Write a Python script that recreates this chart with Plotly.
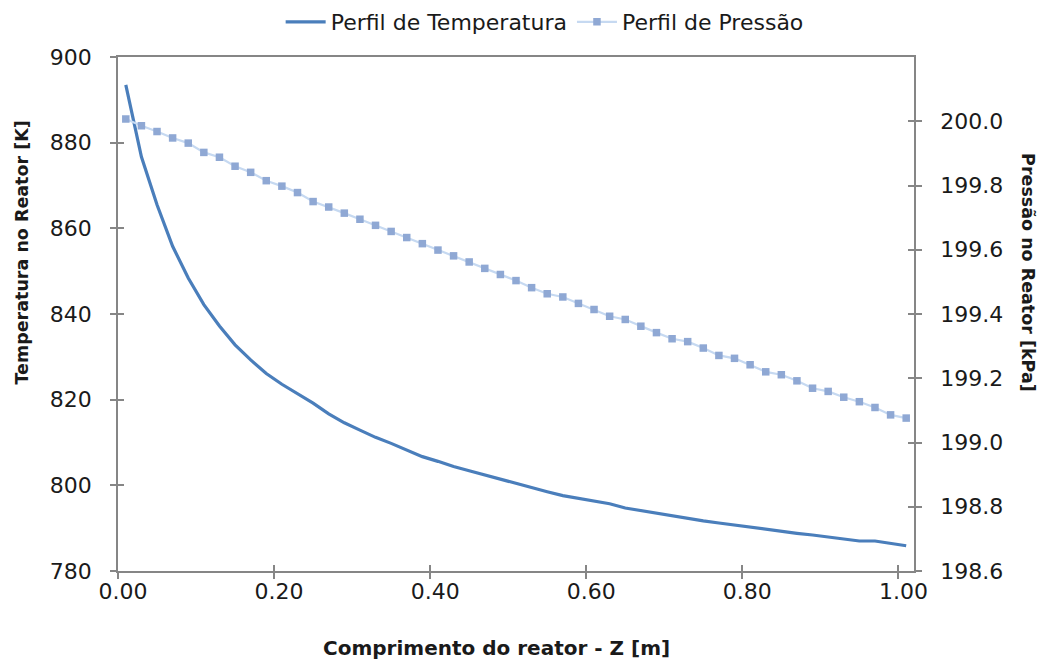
import plotly.graph_objects as go

z = [0.01, 0.03, 0.05, 0.07, 0.09, 0.11, 0.13, 0.15, 0.17, 0.19,
     0.21, 0.23, 0.25, 0.27, 0.29, 0.31, 0.33, 0.35, 0.37, 0.39,
     0.41, 0.43, 0.45, 0.47, 0.49, 0.51, 0.53, 0.55, 0.57, 0.59,
     0.61, 0.63, 0.65, 0.67, 0.69, 0.71, 0.73, 0.75, 0.77, 0.79,
     0.81, 0.83, 0.85, 0.87, 0.89, 0.91, 0.93, 0.95, 0.97, 0.99, 1.01]

temperatura = [893.5, 876.7, 865.5, 855.8, 848.4, 842.2, 837.2, 832.8, 829.3, 826.1,
               823.6, 821.4, 819.2, 816.7, 814.6, 812.9, 811.2, 809.8, 808.2, 806.7,
               805.6, 804.4, 803.4, 802.4, 801.4, 800.4, 799.4, 798.5, 797.6, 797.0,
               796.3, 795.7, 794.7, 794.1, 793.5, 792.8, 792.2, 791.7, 791.2, 790.7,
               790.2, 789.7, 789.3, 788.8, 788.4, 787.9, 787.4, 787.0, 787.0, 786.5, 785.9]

pressao = [200.007, 199.986, 199.968, 199.948, 199.932, 199.903, 199.888, 199.860, 199.841, 199.815,
           199.798, 199.778, 199.750, 199.733, 199.714, 199.695, 199.676, 199.657, 199.638, 199.619,
           199.599, 199.581, 199.562, 199.542, 199.523, 199.504, 199.482, 199.463, 199.453, 199.433,
           199.414, 199.393, 199.383, 199.362, 199.342, 199.323, 199.314, 199.294, 199.271, 199.262,
           199.242, 199.220, 199.211, 199.192, 199.169, 199.159, 199.141, 199.127, 199.109, 199.086, 199.076]

x_ticks = [0.0, 0.2, 0.4, 0.6, 0.8, 1.0]
x_labels = ["0.00", "0.20", "0.40", "0.60", "0.80", "1.00"]
t_ticks = [780, 800, 820, 840, 860, 880, 900]
p_ticks = [198.6, 198.8, 199.0, 199.2, 199.4, 199.6, 199.8, 200.0]
p_labels = ["198.6", "198.8", "199.0", "199.2", "199.4", "199.6", "199.8", "200.0"]

FONT = "DejaVu Sans"
AX = "#868686"
TXT = "#1a1a1a"
xr = [0, 1.02]
tr = [780, 900]
pr = [198.6, 200.2]

fig = go.Figure()
fig.add_trace(go.Scatter(x=z, y=temperatura, mode="lines", name="Perfil de Temperatura",
                         line=dict(color="#4A7EBB", width=3.2), xaxis="x", yaxis="y"))
fig.add_trace(go.Scatter(x=z, y=pressao, mode="lines+markers", name="Perfil de Pressão",
                         line=dict(color="#C6D9F1", width=2.2),
                         marker=dict(symbol="square", size=7.5, color="#8FA8D4"),
                         xaxis="x", yaxis="y2"))

common = dict(showgrid=False, zeroline=False, linecolor=AX, linewidth=1.5,
              tickcolor=AX, tickwidth=1.5, ticklen=6)

fig.update_layout(
    width=1043, height=664,
    margin=dict(l=118, r=129, t=57, b=93, autoexpand=False),
    paper_bgcolor="white", plot_bgcolor="white",
    font=dict(family=FONT, color=TXT, size=21),
    showlegend=True,
    legend=dict(orientation="h", x=0.536, y=1.068, xanchor="center", yanchor="middle",
                font=dict(family=FONT, size=22, color=TXT), itemwidth=40,
                bgcolor="rgba(0,0,0,0)"),
    xaxis=dict(range=xr, tickvals=x_ticks, ticktext=x_labels, ticks="outside",
               showline=True, mirror=True, ticklabelstandoff=-6, ticklabelshift=5,
               tickfont=dict(size=22), **common),
    yaxis=dict(range=tr, tickvals=t_ticks, ticks="outside", showline=True,
               ticklabelstandoff=14, tickfont=dict(size=22), **common),
    yaxis2=dict(range=pr, tickvals=p_ticks, ticktext=p_labels, ticks="outside",
                showline=True, overlaying="y", side="right", ticklabelstandoff=14,
                tickfont=dict(size=22), **common),
    # overlay axes carrying the inner half of the crossing tick marks
    xaxis2=dict(range=xr, tickvals=x_ticks, ticks="inside", showticklabels=False,
                overlaying="x", side="bottom", showline=False, **common),
    yaxis3=dict(range=tr, tickvals=t_ticks, ticks="inside", showticklabels=False,
                overlaying="y", side="left", showline=False, **common),
    yaxis4=dict(range=pr, tickvals=p_ticks, ticks="inside", showticklabels=False,
                overlaying="y", side="right", showline=False, **common),
    annotations=[
        dict(text="<b>Comprimento do reator - Z [m]</b>", xref="paper", yref="paper",
             x=0.476, y=-0.149, xanchor="center", yanchor="middle", showarrow=False,
             font=dict(family=FONT, size=20, color=TXT)),
        dict(text="<b>Temperatura no Reator [K]</b>", xref="paper", yref="paper",
             x=-0.121, y=0.619, xanchor="center", yanchor="middle", showarrow=False,
             textangle=-90, font=dict(family=FONT, size=17.5, color=TXT)),
        dict(text="<b>Pressão no Reator [kPa]</b>", xref="paper", yref="paper",
             x=1.143, y=0.58, xanchor="center", yanchor="middle", showarrow=False,
             textangle=90, font=dict(family=FONT, size=17.5, color=TXT)),
    ],
)

# invisible traces so the overlay axes get drawn
fig.add_trace(go.Scatter(x=[None], y=[None], xaxis="x2", yaxis="y3", showlegend=False, hoverinfo="skip"))
fig.add_trace(go.Scatter(x=[None], y=[None], xaxis="x2", yaxis="y4", showlegend=False, hoverinfo="skip"))

fig.write_html("out.html")
